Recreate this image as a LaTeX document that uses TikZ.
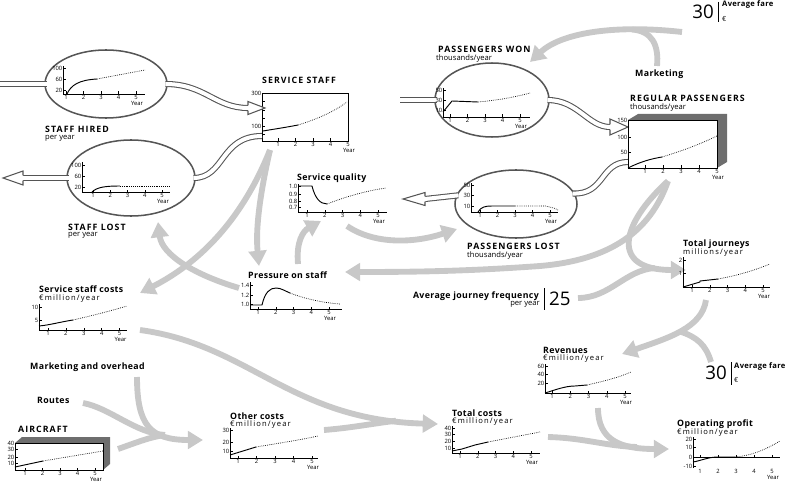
\documentclass[tikz,border=0pt]{standalone}
\usepackage{fontspec}
\setsansfont{Open Sans}
\newfontfamily\titlefont[LetterSpace=4]{Open Sans}
\newfontfamily\capsfont[LetterSpace=12]{Open Sans}
\newfontfamily\spacedfont[LetterSpace=15]{Open Sans}
\usetikzlibrary{arrows.meta,shapes.geometric}
\definecolor{flowgray}{RGB}{200,200,200}
\definecolor{pipegray}{RGB}{85,85,85}
\definecolor{boxgray}{RGB}{110,110,110}

% value axis: x, top, bottom, {label/y,...}
\newcommand{\valaxis}[4]{%
  \draw[axline] (#1,#2) -- (#1,#3);
  \foreach \val/\yy in {#4}{%
    \draw[axline] (#1,\yy) -- ++(2.5,0);
    \node[lbl,anchor=east] at (#1,\yy) {\val};
  }}
% year axis: x0, y0, first tick, tick step, right end, label y
\newcommand{\yearaxis}[6]{%
  \draw[axline] (#1,#2) -- (#5,#2);
  \foreach \k in {1,...,5}{%
    \draw[axline] ({#3+(\k-1)*#4},#2) -- ++(0,-2.5);
    \node[lbl,anchor=north] at ({#3+(\k-1)*#4},#6) {\k};
  }
  \node[lbl,anchor=north] at ({#3+4*#4+1},{#6+5.5}) {Year};}
% open arrow head on a pipe: base, angle, length, half width
\newcommand{\pipehead}[4]{%
  \begin{scope}[shift={(#1)},rotate=#2]
    \fill[white] (0,-#4) -- (#3,0) -- (0,#4) -- cycle;
    \draw[pipegray,line width=0.9pt] (0,-2.6) -- (0,-#4) -- (#3,0) -- (0,#4) -- (0,2.6);
  \end{scope}}

\begin{document}
\begin{tikzpicture}[x=0.3mm,y=-0.3mm,
  ttl/.style={font=\titlefont\bfseries\fontsize{7.5}{8}\selectfont,inner sep=0,anchor=west},
  capttl/.style={font=\capsfont\bfseries\fontsize{7.5}{8}\selectfont,inner sep=0,anchor=west},
  farettl/.style={font=\titlefont\bfseries\fontsize{6.5}{7}\selectfont,inner sep=0,anchor=west},
  subttl/.style={font=\sffamily\fontsize{6.5}{7}\selectfont,inner sep=0,anchor=west},
  unitttl/.style={font=\spacedfont\fontsize{6.5}{7}\selectfont,inner sep=0,anchor=west},
  lbl/.style={font=\sffamily\fontsize{5}{5.5}\selectfont,inner sep=0.4pt},
  bignum/.style={font=\sffamily\fontsize{16}{16}\selectfont,inner sep=0},
  axline/.style={line width=0.4pt},
  solidcurve/.style={line width=0.8pt},
  dotcurve/.style={line width=0.6pt,densely dotted},
  flow/.style={draw=flowgray,line width=5pt,-{Triangle[length=13pt,width=15pt]}},
  flowjoin/.style={draw=flowgray,line width=5pt},
  pipe/.style={draw=pipegray,line width=0.9pt,double=white,double distance=3.4pt},
  stockell/.style={ellipse,draw=pipegray,line width=1.3pt,fill=white,inner sep=0},
  stockbox/.style={draw,line width=0.4pt,inner sep=0}]
\useasboundingbox (0,0) rectangle (800,495);

% ends of the influence arrows
\coordinate (fareA) at (682,32);
\coordinate (wonarr) at (530,62);
\coordinate (mkt) at (657,66);
\coordinate (mktjoin) at (632,29.5);
\coordinate (staffbot) at (270,150);
\coordinate (presstop) at (259,266);
\coordinate (costsarr) at (140,293);
\coordinate (presleft) at (239,288);
\coordinate (lostarr) at (158,222);
\coordinate (presup) at (298,264);
\coordinate (qualarr) at (321,221);
\coordinate (qualout) at (347,226);
\coordinate (plostarr) at (457,229);
\coordinate (regbot) at (668,181);
\coordinate (presarr) at (345,272);
\coordinate (tjarr) at (686,270);
\coordinate (freqout) at (578,298);
\coordinate (freqjoin) at (655,268);
\coordinate (tjbot) at (706,300);
\coordinate (revarr) at (622,354);
\coordinate (fareB) at (711,362);
\coordinate (farejoin) at (680,331.5);
\coordinate (revbot) at (598,408);
\coordinate (oparr) at (669,449);
\coordinate (tcout) at (548,437);
\coordinate (tcjoin) at (637,447);
\coordinate (costsout) at (140,330);
\coordinate (tcarr) at (438,424);
\coordinate (ocout) at (324,430);
\coordinate (ocjoin) at (396,420.7);
\coordinate (moh) at (137,377);
\coordinate (ocarr) at (203,440);
\coordinate (routes) at (83,403);
\coordinate (acout) at (118,449);
\coordinate (mohjoin) at (165,435);

% influence arrows
\draw[flow] (fareA) .. controls (610,24) and (560,34) .. (wonarr);
\draw[flowjoin] (mkt) .. controls (659,45) and (652,31) .. (mktjoin);
\draw[flow] (staffbot) .. controls (262,185) and (255,225) .. (presstop);
\draw[flow] (staffbot) .. controls (240,225) and (195,265) .. (costsarr);
\draw[flow] (presleft) .. controls (195,275) and (162,255) .. (lostarr);
\draw[flow] (presup) .. controls (296,242) and (303,231) .. (qualarr);
\draw[flow] (qualout) .. controls (375,245) and (415,243) .. (plostarr);
\draw[flow] (regbot) .. controls (650,232) and (610,260) .. (540,266) .. controls (470,271) and (420,272) .. (presarr);
\draw[flow] (regbot) .. controls (620,225) and (610,270) .. (tjarr);
\draw[flowjoin] (freqout) .. controls (610,298) and (625,270) .. (freqjoin);
\draw[flow] (tjbot) .. controls (702,328) and (668,338) .. (revarr);
\draw[flowjoin] (fareB) .. controls (706,345) and (697,337) .. (farejoin);
\draw[flow] (revbot) .. controls (598,440) and (620,449) .. (oparr);
\draw[flowjoin] (tcout) .. controls (585,438) and (605,446) .. (tcjoin);
\draw[flow] (costsout) .. controls (250,345) and (290,420) .. (tcarr);
\draw[flowjoin] (ocout) .. controls (350,428) and (370,424) .. (ocjoin);
\draw[flow] (moh) .. controls (137,425) and (150,440) .. (ocarr);
\draw[flowjoin] (routes) .. controls (110,408) and (135,433) .. (mohjoin);
\draw[flowjoin] (acout) .. controls (138,442) and (150,437) .. (mohjoin);

% flows (ellipses) and stocks (boxes)
\node[stockell,minimum width=36.6mm,minimum height=20.4mm] (hired) at (106,84) {};
\node[stockell,minimum width=38.4mm,minimum height=22.8mm] (lost) at (131,178) {};
\node[stockell,minimum width=34.2mm,minimum height=22.2mm] (won) at (492,100) {};
\node[stockell,minimum width=36.6mm,minimum height=20.4mm] (plost) at (516,204) {};
\node[stockbox,minimum width=25.8mm,minimum height=14.4mm] (staffbox) at (305,117) {};
\fill[boxgray] (628,120) -- (638,114) -- (727,114) -- (727,162) -- (717,168) -- (717,120) -- cycle;
\node[stockbox,fill=white,minimum width=26.7mm,minimum height=14.4mm] (regbox) at (672.5,144) {};
\fill[boxgray] (15,443) -- (22,437) -- (110,437) -- (110,464) -- (103,470) -- (103,443) -- cycle;
\node[stockbox,fill=white,minimum width=26.4mm,minimum height=8.1mm] (airbox) at (59,456.5) {};

% pipes
\coordinate (hiredin) at (0,84);
\coordinate (staffin) at (248,108);
\coordinate (staffout) at (262,136);
\coordinate (lostout) at (23,178);
\coordinate (wonin) at (400,100);
\coordinate (regin) at (610,127);
\coordinate (regout) at (628,162);
\coordinate (plostout) at (425,199);
\draw[pipe,shorten >=-2pt] (hiredin) -- (hired.west);
\draw[pipe,shorten <=-2pt] (hired.east) .. controls (205,84) and (215,108) .. (staffin);
\draw[pipe,shorten >=-2pt] (staffout) .. controls (220,136) and (225,178) .. (lost.east);
\draw[pipe,shorten <=-2pt] (lost.west) -- (lostout);
\draw[pipe,shorten >=-2pt] (wonin) -- (won.west);
\draw[pipe,shorten <=-2pt] (won.east) .. controls (578,100) and (588,127) .. (regin);
\draw[pipe,shorten >=-2pt] (regout) .. controls (600,162) and (605,195) .. (plost.10);
\draw[pipe,shorten <=-2pt] (plost.172) -- (plostout);
\pipehead{staffin}{0}{17}{6.5}
\pipehead{lostout}{180}{20}{7}
\pipehead{regin}{0}{18}{8}
\pipehead{plostout}{180}{22}{6.5}

% staff hired
\valaxis{63}{66}{94}{100/68,60/79,20/90}
\yearaxis{63}{94}{66}{17.5}{145}{95}
\draw[solidcurve] (67,94) .. controls (71,85) and (79,80) .. (97,79);
\draw[dotcurve] (97,79) -- (145,70);
% staff lost
\valaxis{82}{162}{192}{100/165,60/176,20/187}
\yearaxis{82}{192}{93}{17.25}{170}{193}
\draw[solidcurve] (92,192) .. controls (97,187) and (106,186) .. (120,186);
\draw[dotcurve] (120,186) -- (170,186);
% service staff
\foreach \yy in {101,110,118,126,134} \draw[axline] (262,\yy) -- ++(2.5,0);
\node[lbl,anchor=east] at (262,93) {300};
\node[lbl,anchor=east] at (262,126) {100};
\yearaxis{262}{141}{278}{17.5}{348}{142}
\draw[solidcurve] (263,131) .. controls (275,129) and (288,127) .. (298,125);
\draw[dotcurve] (298,125) .. controls (318,119) and (335,111) .. (347,102);
% service quality
\valaxis{298}{184}{212}{1.0/186,0.9/194,0.8/201,0.7/207}
\yearaxis{298}{212}{307}{17.75}{387}{213}
\draw[solidcurve] (298,186) -- (312,186) .. controls (315,198) and (320,204) .. (327,204);
\draw[dotcurve] (327,204) .. controls (345,197) and (365,191) .. (386,188);
% pressure on staff
\valaxis{250}{282}{309}{1.4/285,1.2/295,1.0/304}
\yearaxis{250}{309}{258}{17.75}{342}{310}
\draw[solidcurve] (250,305) -- (262,305) .. controls (265,292) and (270,288) .. (276,288) .. controls (281,288) and (285,291) .. (290,293);
\draw[dotcurve] (290,293) .. controls (305,299) and (325,303) .. (340,304);
% service staff costs
\valaxis{39}{304}{330}{10/307,5/320}
\yearaxis{39}{330}{48}{17.9}{127}{331}
\draw[solidcurve] (39,326) .. controls (50,325) and (60,322) .. (73,320);
\draw[dotcurve] (73,320) .. controls (95,315) and (110,311) .. (127,306);
% aircraft
\valaxis{15}{443}{470}{40/443,30/449,20/457,10/463}
\yearaxis{15}{470}{25}{17.5}{103}{471}
\draw[solidcurve] (15,467) -- (43,461);
\draw[dotcurve] (43,461) -- (103,451);
% other costs
\valaxis{230}{428}{458}{30/430,20/442,10/451}
\yearaxis{230}{458}{238}{18.5}{318}{459}
\draw[solidcurve] (230,455) -- (256,447);
\draw[dotcurve] (256,447) .. controls (280,443) and (300,440) .. (318,436);
% total costs
\valaxis{452}{426}{453}{40/428,30/434,20/441,10/448}
\yearaxis{452}{453}{460}{17.75}{540}{454}
\draw[solidcurve] (452,451) -- (462,449) -- (475,445) -- (488,442);
\draw[dotcurve] (488,442) -- (540,432);
% revenues
\valaxis{545}{364}{393}{60/366,40/374,20/383}
\yearaxis{545}{393}{552}{18.25}{631}{394}
\draw[solidcurve] (545,393) .. controls (555,390) and (565,386) .. (575,386) -- (587,385);
\draw[dotcurve] (587,385) .. controls (605,381) and (620,377) .. (631,372);
% operating profit
\valaxis{693}{437}{468}{20/439,10/447,0/457,-10/466}
\yearaxis{693}{457}{700}{18}{780}{469}
\draw[solidcurve] (693,462) .. controls (700,461) and (708,457) .. (718,457) -- (735,457);
\draw[dotcurve] (735,457) .. controls (750,456) and (765,450) .. (780,441);
% total journeys
\valaxis{683}{257}{287}{2/260,1/273}
\yearaxis{683}{287}{692}{17.75}{770}{288}
\draw[solidcurve] (683,287) -- (700,282) -- (700,281) -- (718,279);
\draw[dotcurve] (718,279) .. controls (740,275) and (755,270) .. (770,264);
% passengers won
\valaxis{443}{88}{117}{50/90,30/100,10/110}
\yearaxis{443}{117}{450}{17.5}{530}{118}
\draw[solidcurve] (443,112) -- (452,101) -- (478,102);
\draw[dotcurve] (478,102) .. controls (500,100) and (515,97) .. (530,93);
% regular passengers
\valaxis{628}{120}{168}{150/120,100/137,50/152}
\yearaxis{628}{168}{645}{18}{717}{169}
\draw[solidcurve] (628,168) .. controls (640,162) and (650,159) .. (662,157);
\draw[dotcurve] (662,157) .. controls (685,150) and (700,144) .. (717,136);
% passengers lost
\valaxis{471}{183}{212}{50/185,30/195,10/206}
\yearaxis{471}{212}{480}{17.5}{558}{213}
\draw[solidcurve] (478,212) .. controls (481,207) and (485,206) .. (492,206) -- (515,206);
\draw[dotcurve] (515,206) -- (545,206) .. controls (550,207) and (555,208) .. (558,210);

% labels
\node[capttl] (thired) at (45,129) {STAFF HIRED};
\node[subttl] (thiredsub) at (45,138) {per year};
\node[capttl] (tlost) at (68,227) {STAFF LOST};
\node[subttl] (tlostsub) at (68,235.5) {per year};
\node[capttl] (tstaff) at (262,80) {SERVICE STAFF};
\node[ttl] (tqual) at (297,178.5) {Service quality};
\node[ttl] (tpres) at (248,275) {Pressure on staff};
\node[ttl] (tcosts) at (39,289.5) {Service staff costs};
\node[unitttl] (tcostssub) at (39,298.5) {€million/year};
\node[ttl] (tmoh) at (30,367) {Marketing and overhead};
\node[ttl] (troutes) at (37,400) {Routes};
\node[capttl] (tair) at (18,429) {AIRCRAFT};
\node[ttl] (toc) at (230,416.5) {Other costs};
\node[unitttl] (tocsub) at (230,425) {€million/year};
\node[ttl] (ttc) at (452,413) {Total costs};
\node[unitttl] (ttcsub) at (452,421.5) {€million/year};
\node[ttl] (trev) at (543,350) {Revenues};
\node[unitttl] (trevsub) at (543,358.5) {€million/year};
\node[ttl] (tprofit) at (677,424) {Operating profit};
\node[unitttl] (tprofitsub) at (677,432.5) {€million/year};
\node[ttl] (ttj) at (683,244) {Total journeys};
\node[unitttl] (ttjsub) at (683,253) {millions/year};
\node[ttl,anchor=east] (tfreq) at (539,296) {Average journey frequency};
\node[subttl,anchor=east] (tfreqsub) at (540,304.5) {per year};
\draw[axline] (544,288) -- (544,310);
\node[bignum,anchor=west] (nfreq) at (549,299) {25};
\node[capttl] (twon) at (438,49.5) {PASSENGERS WON};
\node[subttl] (twonsub) at (436,59) {thousands/year};
\node[ttl] (tmkt) at (635,74) {Marketing};
\node[capttl] (treg) at (630,98.5) {REGULAR PASSENGERS};
\node[subttl] (tregsub) at (630,108) {thousands/year};
\node[capttl] (tplost) at (467,246.5) {PASSENGERS LOST};
\node[subttl] (tplostsub) at (467,255.5) {thousands/year};
% average fare
\node[bignum,anchor=east] (nfareA) at (714,12) {30};
\draw[axline] (718,2) -- (718,22);
\node[farettl] (tfareA) at (722,5) {Average fare};
\node[subttl,font=\sffamily\fontsize{6}{6}\selectfont] (efareA) at (722,19) {€};
\node[bignum,anchor=east] (nfareB) at (727,373) {30};
\draw[axline] (731,362) -- (731,385);
\node[farettl] (tfareB) at (734,366) {Average fare};
\node[subttl,font=\sffamily\fontsize{6}{6}\selectfont] (efareB) at (734,380) {€};
\end{tikzpicture}
\end{document}
